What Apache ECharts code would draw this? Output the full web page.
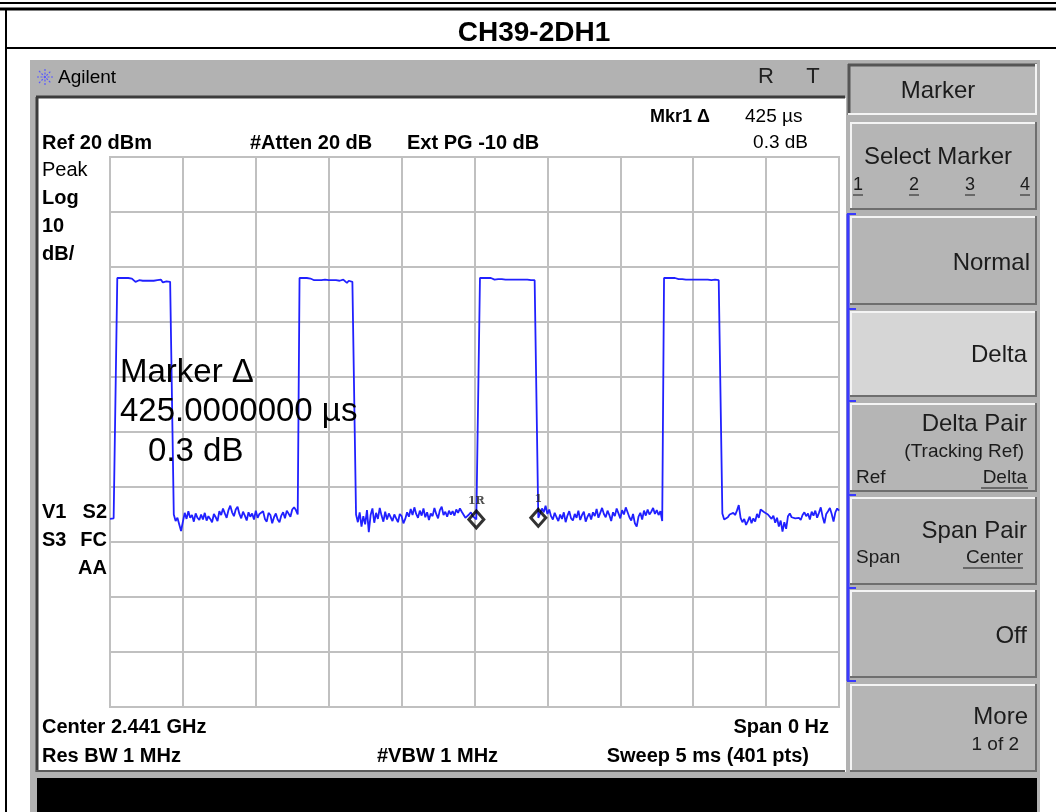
<!DOCTYPE html>
<html>
<head>
<meta charset="utf-8">
<script src="https://cdn.jsdelivr.net/npm/echarts@6/dist/echarts.min.js"></script>
<style>
html, body { margin: 0; padding: 0; background: #fff; }
#chart { width: 1056px; height: 812px; }
</style>
</head>
<body>
<div id="chart"></div>
<script>
// sweep: 401 pts over 5 ms, ref 20 dBm, 10 dB/div
const sweepMs = 5;
const sweepPts = 401;
const refLevel = 20;
const bottomLevel = -80;

// trace segments in dBm left to right
const noise0 = [-45.8, -45.9, -45.7, -45.8];
const pulse1 = [
    -2.0, -2.0, -2.0, -2.0, -2.0, -2.0, -2.0, -2.0, -2.1, -2.3,
    -2.7, -2.5, -2.4, -2.5, -2.5, -2.5, -2.5, -2.4, -2.5, -2.5,
    -2.5, -2.5, -2.4, -2.6, -2.3, -2.8, -3.1, -2.6, -2.5, -2.7,
    -2.9
];
const noise1 = [
    -45.0, -46.2, -45.6, -46.8, -48.0, -46.3, -44.7, -45.8, -44.4, -45.6,
    -45.1, -46.3, -44.8, -45.6, -46.0, -45.0, -45.9, -44.7, -46.1, -45.3,
    -45.8, -46.4, -44.9, -45.5, -46.2, -44.4, -45.1, -43.9, -44.8, -45.6,
    -44.2, -43.4, -44.6, -45.3, -44.1, -43.6, -44.9, -45.7, -44.5, -45.2,
    -46.1, -44.6, -45.4, -44.8, -45.9, -44.3, -45.6, -44.9, -45.2, -44.4,
    -45.8, -46.3, -44.7, -45.1, -46.6, -45.5, -44.8, -45.9, -46.4, -45.2,
    -44.6, -45.7, -44.3, -44.0, -45.4, -44.1, -43.7, -44.2, -45.0
];
const pulse2 = [
    -2.0, -2.0, -2.0, -2.0, -2.0, -2.0, -2.1, -2.2, -2.4, -2.3,
    -2.4, -2.2, -2.4, -2.5, -2.3, -2.4, -2.4, -2.3, -2.4, -2.4,
    -2.4, -2.5, -2.5, -2.4, -2.3, -2.6, -2.9, -2.5, -2.4, -2.7,
    -2.8
];
const noise2 = [
    -45.0, -46.4, -44.6, -47.2, -45.3, -46.8, -44.2, -48.2, -45.1, -43.9,
    -46.5, -44.7, -45.8, -43.8, -45.2, -46.3, -44.5, -45.9, -44.8, -45.5,
    -46.2, -45.0, -45.7, -46.4, -44.9, -45.3, -46.6, -45.8, -44.6, -45.4,
    -44.0, -45.1, -43.7, -44.9, -45.6, -44.3, -45.2, -43.9, -45.5, -44.6,
    -46.0, -44.8, -45.3, -43.8, -44.9, -45.7, -44.2, -43.6, -45.1, -44.5,
    -45.4, -44.3, -45.0, -44.4, -45.2, -44.1, -44.7, -43.9, -44.5, -44.8,
    -45.6, -45.8, -45.0, -44.6, -45.3, -45.1, -45.9, -45.7
];
const pulse3 = [
    -2.0, -2.0, -2.0, -2.0, -2.0, -2.0, -2.0, -2.2, -2.3, -2.2,
    -2.2, -2.2, -2.2, -2.2, -2.3, -2.3, -2.3, -2.3, -2.3, -2.3,
    -2.3, -2.3, -2.3, -2.3, -2.3, -2.4, -2.3, -2.4, -2.4, -2.6,
    -2.4, -2.5
];
const noise3 = [
    -45.6, -44.8, -43.9, -44.6, -43.4, -44.9, -44.1, -45.3, -45.9, -44.7,
    -45.5, -46.2, -45.0, -45.8, -44.6, -46.4, -45.2, -44.4, -45.7, -46.1,
    -44.9, -45.6, -44.3, -46.0, -45.1, -44.5, -46.3, -45.4, -44.8, -45.9,
    -44.6, -45.3, -44.0, -45.6, -44.7, -43.8, -44.9, -45.5, -44.3, -45.1,
    -46.2, -44.6, -45.3, -43.9, -44.8, -45.7, -44.2, -45.0, -43.7, -44.6,
    -45.5, -46.1, -44.9, -46.6, -47.2, -45.4, -44.7, -45.9, -44.3, -45.2,
    -44.1, -45.0, -44.5, -43.8, -44.9, -44.2, -45.1, -44.4, -46.2
];
const pulse4 = [
    -2.0, -2.0, -2.0, -2.0, -2.0, -2.0, -2.0, -2.1, -2.2, -2.4,
    -2.2, -2.3, -2.3, -2.2, -2.3, -2.3, -2.3, -2.3, -2.3, -2.3,
    -2.3, -2.3, -2.3, -2.4, -2.3, -2.5, -2.4, -2.3, -2.3, -2.4,
    -2.4, -2.3
];
const noise4 = [
    -44.8, -45.9, -46.2, -45.5, -45.0, -45.3, -44.7, -45.1, -44.3, -43.3,
    -45.6, -46.4, -45.8, -46.9, -46.2, -45.4, -46.6, -45.7, -46.3, -44.9,
    -45.6, -44.1, -43.9, -44.6, -44.4, -45.0, -44.7, -45.8, -45.2, -46.5,
    -45.6, -47.2, -46.1, -48.1, -46.4, -47.6, -45.3, -44.8, -45.5, -45.6,
    -45.7, -45.6, -45.6, -46.0, -45.1, -44.6, -45.3, -44.8, -45.9, -44.5,
    -45.2, -44.3, -45.6, -44.7, -43.7, -45.4, -46.6, -44.9, -44.4, -43.8,
    -44.9, -46.3, -44.6, -43.9, -44.3
];

// delta marker pair (trace point index)
const markerIdx = [201, 235];
const markerNames = ['1R', '1'];

const trace = [].concat(noise0, pulse1, noise1, pulse2, noise2, pulse3, noise3, pulse4, noise4);
const stepUs = sweepMs * 1000 / (sweepPts - 1);
const traceData = trace.map((v, i) => [i * stepUs, v]);
const markerData = markerIdx.map((k, i) => ({ name: markerNames[i], value: [k * stepUs, trace[k]] }));

const FONT = "'Liberation Sans', Arial, sans-serif";

function txt(x, y, s, size, opt) {
    opt = opt || {};
    return {
        type: 'text', x: x, y: y, z: 50,
        style: {
            text: s,
            font: (opt.bold ? 'bold ' : '') + size + 'px ' + FONT,
            fill: opt.color || '#000',
            textAlign: opt.align || 'left',
            textVerticalAlign: 'middle'
        }
    };
}
function rect(x, y, w, h, fill, z) {
    return { type: 'rect', z: z == null ? -10 : z, shape: { x: x, y: y, width: w, height: h }, style: { fill: fill } };
}
function line(x1, y1, x2, y2, color, w, z) {
    return { type: 'line', z: z == null ? -5 : z, shape: { x1: x1, y1: y1, x2: x2, y2: y2 }, style: { stroke: color, lineWidth: w } };
}
// raised softkey button
function button(y1, y2, fill) {
    return [
        rect(850, y1, 187, y2 - y1, fill, -8),
        line(850, y1 + 1, 1036, y1 + 1, '#f4f4f4', 2, -7),
        line(851, y1, 851, y2, '#f4f4f4', 2, -7),
        line(850, y2 - 1, 1037, y2 - 1, '#6e6e6e', 2, -7),
        line(1036, y1, 1036, y2, '#6e6e6e', 2, -7)
    ];
}

const graphics = [];
// page frame
graphics.push(line(0, 3, 1056, 3, '#000', 2));
graphics.push(line(0, 9, 1056, 9, '#000', 3));
graphics.push(line(6, 9, 6, 812, '#000', 2));
graphics.push(line(6, 48, 1056, 48, '#000', 2));
graphics.push(txt(534, 33, 'CH39-2DH1', 28, { bold: true, align: 'center' }));

// analyzer screen
graphics.push(rect(30, 60, 1010, 752, '#b2b2b2', -12));
graphics.push(rect(38, 98, 808, 674, '#ffffff', -11));
graphics.push(line(36, 97, 845, 97, '#3c3c3c', 3));
graphics.push(line(37, 97, 37, 772, '#3c3c3c', 3));
graphics.push(line(36, 771, 845, 771, '#5a5a5a', 2));
graphics.push(rect(37, 778, 1000, 34, '#000', -9));

// Agilent logo + title bar
const logo = [[0, -8, 0, 8], [-8, 0, 8, 0], [-6, -6, 6, 6], [-6, 6, 6, -6]];
logo.forEach(d => {
    graphics.push({
        type: 'line', z: 5,
        shape: { x1: 45 + d[0], y1: 77 + d[1], x2: 45 + d[2], y2: 77 + d[3] },
        style: { stroke: '#5a5aff', lineWidth: 1.2, lineDash: [2, 1.5] }
    });
});
graphics.push(txt(58, 78, 'Agilent', 19));
graphics.push(txt(766, 77, 'R', 22, { align: 'center', color: '#222' }));
graphics.push(txt(813, 77, 'T', 22, { align: 'center', color: '#222' }));

// annotations inside the display
graphics.push(txt(650, 117, 'Mkr1 \u0394', 18, { bold: true }));
graphics.push(txt(745, 117, '425 \u00b5s', 19));
graphics.push(txt(808, 143, '0.3 dB', 19, { align: 'right' }));
graphics.push(txt(42, 143, 'Ref 20 dBm', 20, { bold: true }));
graphics.push(txt(250, 143, '#Atten 20 dB', 20, { bold: true }));
graphics.push(txt(407, 143, 'Ext PG -10 dB', 20, { bold: true }));
graphics.push(txt(42, 170, 'Peak', 20));
graphics.push(txt(42, 198, 'Log', 20, { bold: true }));
graphics.push(txt(42, 226, '10', 20, { bold: true }));
graphics.push(txt(42, 254, 'dB/', 20, { bold: true }));
graphics.push(txt(42, 512, 'V1', 20, { bold: true }));
graphics.push(txt(107, 512, 'S2', 20, { bold: true, align: 'right' }));
graphics.push(txt(42, 540, 'S3', 20, { bold: true }));
graphics.push(txt(107, 540, 'FC', 20, { bold: true, align: 'right' }));
graphics.push(txt(107, 568, 'AA', 20, { bold: true, align: 'right' }));
graphics.push(txt(42, 727, 'Center 2.441 GHz', 20, { bold: true }));
graphics.push(txt(829, 727, 'Span 0 Hz', 20, { bold: true, align: 'right' }));
graphics.push(txt(42, 756, 'Res BW 1 MHz', 20, { bold: true }));
graphics.push(txt(377, 756, '#VBW 1 MHz', 20, { bold: true }));
graphics.push(txt(809, 756, 'Sweep 5 ms (401 pts)', 20, { bold: true, align: 'right' }));
graphics.push(txt(120, 373, 'Marker \u0394', 33));
graphics.push(txt(120, 412, '425.0000000 \u00b5s', 33));
graphics.push(txt(148, 452, '0.3 dB', 33));

// softkey panel
graphics.push(rect(848, 64, 189, 51, '#b8b8b8', -8));
graphics.push(line(848, 65, 1037, 65, '#555', 3, -7));
graphics.push(line(849, 64, 849, 115, '#555', 3, -7));
graphics.push(line(848, 114, 1037, 114, '#f4f4f4', 2, -7));
graphics.push(line(1036, 64, 1036, 115, '#f4f4f4', 2, -7));
[[122, 210, '#b5b5b5'], [216, 305, '#b5b5b5'], [311, 397, '#d6d6d6'], [403, 492, '#b5b5b5'],
 [497, 585, '#b5b5b5'], [590, 678, '#b5b5b5'], [684, 772, '#b5b5b5']].forEach(b => {
    button(b[0], b[1], b[2]).forEach(g => graphics.push(g));
});
graphics.push(line(848, 214, 848, 681, '#3a3aff', 3, -6));
[214, 309, 401, 495, 588, 681].forEach(y => graphics.push(line(847, y, 856, y, '#3a3aff', 2, -6)));

const KEY = '#1c1c1c';
graphics.push(txt(938, 91, 'Marker', 24, { align: 'center', color: KEY }));
graphics.push(txt(938, 157, 'Select Marker', 24, { align: 'center', color: KEY }));
[[858, '1'], [914, '2'], [970, '3'], [1025, '4']].forEach(d => {
    graphics.push(txt(d[0], 185, d[1], 18, { align: 'center', color: KEY }));
    graphics.push(line(d[0] - 5, 195, d[0] + 5, 195, KEY, 1, 5));
});
graphics.push(txt(1030, 263, 'Normal', 24, { align: 'right', color: KEY }));
graphics.push(txt(1027, 355, 'Delta', 24, { align: 'right', color: KEY }));
graphics.push(txt(1027, 424, 'Delta Pair', 24, { align: 'right', color: KEY }));
graphics.push(txt(1024, 452, '(Tracking Ref)', 19, { align: 'right', color: KEY }));
graphics.push(txt(856, 478, 'Ref', 19, { color: KEY }));
graphics.push(txt(1027, 478, 'Delta', 19, { align: 'right', color: KEY }));
graphics.push(line(981, 488, 1028, 488, KEY, 1, 5));
graphics.push(txt(1027, 531, 'Span Pair', 24, { align: 'right', color: KEY }));
graphics.push(txt(856, 558, 'Span', 19, { color: KEY }));
graphics.push(txt(1023, 558, 'Center', 19, { align: 'right', color: KEY }));
graphics.push(line(963, 568, 1023, 568, KEY, 1, 5));
graphics.push(txt(1027, 636, 'Off', 24, { align: 'right', color: KEY }));
graphics.push(txt(1028, 717, 'More', 24, { align: 'right', color: KEY }));
graphics.push(txt(1019, 745, '1 of 2', 19, { align: 'right', color: KEY }));

const myChart = echarts.init(document.getElementById('chart'), null, { renderer: 'canvas' });
const option = {
    backgroundColor: '#fff',
    animation: false,
    grid: {
        left: 110, top: 157, width: 729, height: 550,
        show: true, borderColor: '#c0c0c0', borderWidth: 2
    },
    xAxis: {
        type: 'value', min: 0, max: sweepMs * 1000, interval: 500,
        axisLine: { show: false }, axisTick: { show: false }, axisLabel: { show: false },
        splitLine: { show: true, lineStyle: { color: '#c0c0c0', width: 2 } }
    },
    yAxis: {
        type: 'value', min: bottomLevel, max: refLevel, interval: 10,
        axisLine: { show: false }, axisTick: { show: false }, axisLabel: { show: false },
        splitLine: { show: true, lineStyle: { color: '#c0c0c0', width: 2 } }
    },
    graphic: graphics,
    series: [
        {
            type: 'line',
            data: traceData,
            showSymbol: false,
            lineStyle: { color: '#2020ff', width: 1.8 },
            z: 3
        },
        {
            type: 'scatter',
            data: markerData,
            symbol: 'diamond',
            symbolSize: [15, 17],
            itemStyle: { color: 'rgba(0,0,0,0)', borderColor: '#000', borderWidth: 3 },
            label: {
                show: true, position: 'top', distance: 3,
                formatter: p => p.name,
                fontFamily: "'DejaVu Serif', serif", fontSize: 11, fontWeight: 'bold', color: '#222'
            },
            z: 4
        }
    ]
};
myChart.setOption(option);
</script>
</body>
</html>
